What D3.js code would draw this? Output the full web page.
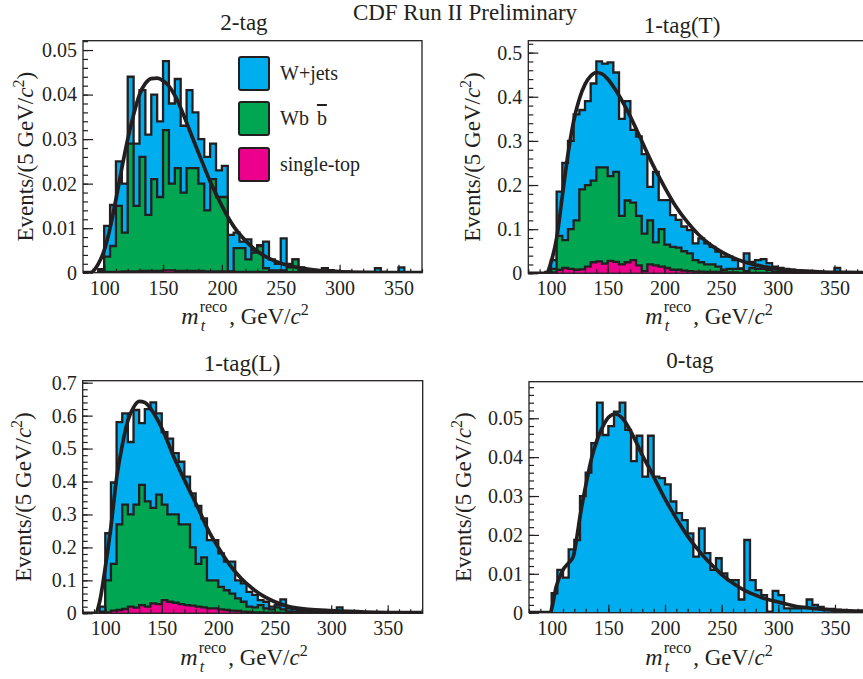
<!DOCTYPE html>
<html>
<head>
<meta charset="utf-8">
<script src="https://cdn.jsdelivr.net/npm/d3@7"></script>
<style>
  body { margin: 0; background: #fff; }
  svg text { font-family: "Liberation Serif", "Times New Roman", serif; fill: #231f20; }
</style>
</head>
<body>
<svg id="chart" width="863" height="679"></svg>
<script>
// 5 GeV bins, first bin starts at 95 GeV
const binStart = 95;
const binWidth = 5;

// 2-tag
const wjets2tag = [0.0004,0.0069,0.0092,0.0100,0.0110,0.0150,0.0140,0.0150,0.0180,0.0190,0.0170,0.0155,0.0180,0.0200,0.0150,0.0175,0.0125,0.0100,0.0120,0.0080,0.0060,0.0070,0.0082,0.0035,0.0015,0.0045,0.0005,0.0002,0.0060,0.0025,0.0015,0.0072,0.0008,0.0000,0.0007,0.0005,0.0003,0.0003,0.0008,0.0004,0.0003,0.0002,0.0003,0.0002,0.0002,0.0002,0.0002,0.0010,0.0002,0.0001,0.0001,0.0012,0.0001,0.0001,0.0001,0.0001,0.0001];
const wbb2tag = [0.0003,0.0034,0.0058,0.0148,0.0087,0.0287,0.0147,0.0256,0.0126,0.0206,0.0166,0.0315,0.0195,0.0231,0.0176,0.0231,0.0231,0.0196,0.0137,0.0207,0.0167,0.0167,0.0001,0.0053,0.0053,0.0028,0.0043,0.0058,0.0009,0.0004,0.0004,0.0004,0.0011,0.0029,0.0004,0.0002,0.0002,0.0001,0.0001,0.0001,0.0001,0.0001,0,0,0,0,0,0,0,0,0,0,0,0,0,0,0];
const stop2tag = [0.0001,0.0002,0.0002,0.0002,0.0003,0.0003,0.0003,0.0004,0.0004,0.0004,0.0004,0.0005,0.0005,0.0004,0.0004,0.0004,0.0004,0.0004,0.0003,0.0003,0.0003,0.0003,0.0002,0.0002,0.0002,0.0002,0.0002,0.0002,0.0001,0.0001,0.0001,0.0001,0.0001,0.0001,0.0001,0.0001,0.0001,0.0001,0.0001,0.0001,0,0,0,0,0,0,0,0,0,0,0,0,0,0,0,0,0];
const fit2tag = [[82,0],[88,0],[95,0.002],[100,0.005],[105,0.010],[110,0.0165],[115,0.0235],[120,0.030],[125,0.0355],[130,0.040],[135,0.0425],[140,0.0436],[145,0.0437],[150,0.0431],[155,0.0419],[160,0.0398],[165,0.0370],[170,0.0337],[175,0.0303],[180,0.0270],[185,0.0237],[190,0.0205],[195,0.0177],[200,0.0150],[210,0.0104],[220,0.0072],[230,0.0048],[240,0.0032],[250,0.0021],[260,0.0014],[270,0.0009],[285,0.0004],[300,0.0002],[330,0.00005],[370,0]];

// 1-tag(T)
const wjets1tagT = [0.002,0.020,0.100,0.175,0.200,0.240,0.180,0.190,0.220,0.240,0.235,0.258,0.225,0.220,0.225,0.165,0.180,0.180,0.076,0.160,0.066,0.101,0.072,0.063,0.056,0.053,0.038,0.054,0.048,0.040,0.034,0.030,0.028,0.020,0.001,0.040,0.014,0.020,0.022,0.015,0.011,0.009,0.007,0.006,0.004,0.004,0.003,0.002,0.003,0.002,0.002,0.012,0.002,0.002,0.002,0.001,0.001];
const wbb1tagT = [0.001,0.008,0.077,0.063,0.090,0.112,0.181,0.185,0.185,0.213,0.218,0.192,0.204,0.110,0.140,0.130,0.112,0.085,0.100,0.052,0.085,0.053,0.052,0.050,0.044,0.040,0.026,0.021,0.017,0.017,0.012,0.006,0.008,0.008,0.009,0.004,0.011,0.009,0.009,0.007,0.003,0.002,0.003,0.002,0.002,0.001,0.001,0.001,0,0,0,0,0,0,0,0,0];
const stop1tagT = [0,0.002,0.008,0.012,0.010,0.008,0.009,0.015,0.025,0.027,0.022,0.028,0.026,0.020,0.025,0.030,0.018,0.005,0.020,0.018,0.015,0.012,0.008,0.008,0.006,0.005,0.004,0.004,0.003,0.003,0.003,0.002,0.002,0.002,0.001,0.001,0.001,0.001,0.001,0.001,0.001,0.001,0,0,0,0,0,0,0,0,0,0,0,0,0,0,0];
const fit1tagT = [[80,0],[96,0],[100,0.025],[105,0.08],[110,0.175],[115,0.27],[120,0.345],[125,0.395],[130,0.428],[135,0.447],[140,0.455],[145,0.452],[150,0.44],[155,0.423],[160,0.403],[165,0.38],[170,0.355],[175,0.328],[180,0.30],[185,0.272],[190,0.245],[195,0.22],[200,0.196],[210,0.152],[220,0.117],[230,0.088],[240,0.066],[250,0.049],[260,0.036],[270,0.026],[280,0.019],[290,0.014],[300,0.010],[320,0.0055],[340,0.003],[360,0.002],[380,0.0012]];

// 1-tag(L)
const wjets1tagL = [0.015,0.143,0.247,0.310,0.277,0.220,0.287,0.187,0.280,0.320,0.247,0.220,0.230,0.186,0.190,0.145,0.164,0.176,0.118,0.122,0.122,0.102,0.087,0.097,0.055,0.056,0.045,0.038,0.015,0.020,0.008,0.007,0.030,0.009,0.008,0.006,0.005,0.003,0.004,0.003,0.003,0.007,0.017,0.003,0.003,0.003,0.002,0.002,0.002,0.001,0.001,0.001,0.001,0.001,0.001,0.001,0.001];
const wbb1tagL = [0.004,0.097,0.142,0.260,0.317,0.280,0.313,0.365,0.320,0.290,0.332,0.290,0.265,0.268,0.242,0.245,0.177,0.130,0.152,0.085,0.085,0.068,0.060,0.052,0.038,0.030,0.016,0.015,0.022,0.013,0.010,0.016,0.011,0.005,0.003,0.003,0.002,0.003,0.002,0.002,0.001,0.001,0.001,0.001,0,0,0,0,0,0,0,0,0,0,0,0,0];
const stop1tagL = [0.001,0.003,0.008,0.010,0.013,0.020,0.017,0.025,0.020,0.030,0.028,0.040,0.035,0.032,0.028,0.025,0.023,0.020,0.018,0.015,0.015,0.012,0.010,0.008,0.007,0.005,0.004,0.003,0.003,0.002,0.002,0.002,0.001,0.001,0.001,0.001,0.001,0,0,0,0,0,0,0,0,0,0,0,0,0,0,0,0,0,0,0,0];
const fit1tagL = [[80,0],[91,0],[95,0.035],[100,0.14],[105,0.263],[110,0.41],[115,0.51],[120,0.585],[125,0.625],[130,0.643],[135,0.64],[140,0.622],[145,0.595],[150,0.562],[155,0.522],[160,0.48],[165,0.442],[170,0.405],[175,0.37],[180,0.335],[185,0.298],[190,0.26],[195,0.228],[200,0.2],[210,0.148],[220,0.107],[230,0.076],[240,0.052],[250,0.035],[260,0.023],[270,0.016],[280,0.012],[300,0.008],[330,0.004],[380,0.002]];

// 0-tag
const wjets0tag = [0,0.0050,0.0110,0.0090,0.0163,0.0187,0.0300,0.0360,0.0436,0.0540,0.0457,0.0480,0.0517,0.0540,0.0470,0.0390,0.0455,0.0350,0.0455,0.0350,0.0346,0.0330,0.0286,0.0256,0.0238,0.0204,0.0144,0.0217,0.0153,0.0110,0.0140,0.0101,0.0084,0.0084,0.0034,0.0187,0.0084,0.0058,0.0045,0.0003,0.0056,0.0045,0.0011,0.0011,0.0011,0.0015,0.0034,0.0020,0.0015,0.0010,0.0010,0.0008,0.0005,0.0005,0.0004,0.0003,0.0003];
const fit0tag = [[80,0],[99,0],[100,0.001],[104,0.0067],[110,0.011],[115,0.0128],[119,0.0144],[122,0.019],[125,0.0247],[131,0.034],[135,0.0395],[140,0.0444],[145,0.0478],[150,0.0502],[156,0.0511],[163,0.0498],[170,0.0465],[175,0.0436],[180,0.0405],[187,0.0367],[193,0.0332],[199,0.0298],[206,0.0262],[213,0.0228],[220,0.0197],[228,0.0166],[235,0.0142],[243,0.0118],[250,0.0098],[258,0.008],[265,0.0066],[272,0.0055],[280,0.0045],[287,0.0037],[295,0.0031],[302,0.0026],[316,0.0016],[331,0.0011],[346,0.0007],[362,0.0005],[380,0.0004]];

const xTicks = [100, 150, 200, 250, 300, 350];
const legendLabels = ["W+jets", "Wb", "single-top"];

const ink = "#231f20";
const serif = '"Liberation Serif", "Times New Roman", serif';
const colors = { wjets: "#00aeef", wbb: "#00a651", stop: "#ec008c" };

const svg = d3.select("#chart");

const panels = [
  { id: "a", title: "2-tag", tx: 244, ty: 30, box: [83, 40.7, 422, 272.7], xDom: [82, 370],
    yMax: 0.0521, yStep: 0.01, yMinor: 0.002,
    layers: { stop: stop2tag, wbb: wbb2tag, wjets: wjets2tag }, fit: fit2tag,
    ytx: 33, xtx: 245, xty: 324 },
  { id: "b", title: "1-tag(T)", tx: 682, ty: 33, box: [528.3, 40.7, 868.5, 273.3], xDom: [80, 380],
    yMax: 0.527, yStep: 0.1, yMinor: 0.02,
    layers: { stop: stop1tagT, wbb: wbb1tagT, wjets: wjets1tagT }, fit: fit1tagT,
    ytx: 480, xtx: 709, xty: 324 },
  { id: "c", title: "1-tag(L)", tx: 242, ty: 371, box: [82.7, 380.7, 422.7, 613.3], xDom: [80, 381],
    yMax: 0.706, yStep: 0.1, yMinor: 0.02,
    layers: { stop: stop1tagL, wbb: wbb1tagL, wjets: wjets1tagL }, fit: fit1tagL,
    ytx: 31, xtx: 244, xty: 665 },
  { id: "d", title: "0-tag", tx: 690, ty: 368, box: [529, 381.7, 869, 612.7], xDom: [80, 380],
    yMax: 0.0594, yStep: 0.01, yMinor: 0.002,
    layers: { wjets: wjets0tag }, fit: fit0tag,
    ytx: 471, xtx: 709, xty: 665 }
];

function measure(str, size, italic) {
  const t = svg.append("text")
    .style("font-family", serif).style("font-size", size + "px")
    .style("font-style", italic ? "italic" : "normal").text(str);
  const w = t.node().getComputedTextLength();
  t.remove();
  return w;
}

// Overall title
svg.append("text")
  .attr("x", 465).attr("y", 20)
  .attr("text-anchor", "middle")
  .style("font-size", "23px")
  .text("CDF Run II Preliminary");

const fmt = d => d === 0 ? "0" : String(+d.toFixed(3));

panels.forEach(p => {
  const [x0, y0, x1, y1] = p.box;
  const x = d3.scaleLinear().domain(p.xDom).range([x0, x1]);
  const y = d3.scaleLinear().domain([0, p.yMax]).range([y1, y0]);

  svg.append("clipPath").attr("id", "clip-" + p.id)
    .append("rect").attr("x", x0).attr("y", y0).attr("width", x1 - x0).attr("height", y1 - y0);

  const keys = Object.keys(p.layers);
  const n = p.layers[keys[0]].length;
  const rows = d3.range(n).map(i => {
    const r = { lo: binStart + i * binWidth };
    keys.forEach(k => r[k] = p.layers[k][i]);
    return r;
  });
  const series = d3.stack().keys(keys)(rows);

  const hist = svg.append("g").attr("clip-path", `url(#clip-${p.id})`);
  const area = d3.area().x(d => x(d.x)).y0(y(0)).y1(d => y(d.v)).curve(d3.curveStepAfter);
  const line = d3.line().x(d => x(d.x)).y(d => y(d.v)).curve(d3.curveStepAfter);

  // cumulative histograms: total first, lower stacks drawn over it
  series.slice().reverse().forEach(s => {
    const hi = rows[n - 1].lo + binWidth;
    const pts = [{ x: rows[0].lo, v: 0 }]
      .concat(s.map(d => ({ x: d.data.lo, v: d[1] })))
      .concat([{ x: hi, v: s[n - 1][1] }, { x: hi, v: 0 }]);
    hist.append("path").attr("d", area(pts)).attr("fill", colors[s.key]);
    hist.append("path").attr("d", line(pts))
      .attr("fill", "none").attr("stroke", ink).attr("stroke-width", 2.3);
  });

  // fit curve
  hist.append("path")
    .attr("d", d3.line().x(d => x(d[0])).y(d => y(d[1])).curve(d3.curveMonotoneX)(p.fit))
    .attr("fill", "none").attr("stroke", ink).attr("stroke-width", 3.7);

  // y axis, ticks inside the frame
  const yMajors = d3.range(0, p.yMax + 1e-9, p.yStep);
  const yMinors = d3.range(0, p.yMax + 1e-9, p.yMinor);
  const gy = svg.append("g").attr("transform", `translate(${x0},0)`)
    .call(d3.axisLeft(y).tickValues(yMinors).tickSizeInner(-5).tickSizeOuter(0).tickFormat(""));
  gy.select(".domain").remove();
  const gyM = svg.append("g").attr("transform", `translate(${x0},0)`)
    .call(d3.axisLeft(y).tickValues(yMajors).tickSizeInner(-10).tickSizeOuter(0).tickPadding(6).tickFormat(fmt));
  gyM.select(".domain").remove();

  // x axis, ticks pointing up
  const xMinors = d3.range(80, 381, 10).filter(v => v >= p.xDom[0] && v <= p.xDom[1]);
  const gx = svg.append("g").attr("transform", `translate(0,${y1})`)
    .call(d3.axisBottom(x).tickValues(xMinors).tickSizeInner(-4).tickSizeOuter(0).tickFormat(""));
  gx.select(".domain").remove();
  const gxM = svg.append("g").attr("transform", `translate(0,${y1})`)
    .call(d3.axisBottom(x).tickValues(xTicks).tickSizeInner(-8).tickSizeOuter(0).tickPadding(8));
  gxM.select(".domain").remove();

  // frame
  svg.append("rect")
    .attr("x", x0).attr("y", y0).attr("width", x1 - x0).attr("height", y1 - y0)
    .attr("fill", "none").attr("stroke", ink).attr("stroke-width", 1.3);

  // panel title
  svg.append("text")
    .attr("x", p.tx).attr("y", p.ty)
    .attr("text-anchor", "middle")
    .style("font-size", "23px")
    .text(p.title);

  // y axis title
  const yt = svg.append("text")
    .attr("transform", `translate(${p.ytx},${(y0 + y1) / 2}) rotate(-90)`)
    .attr("text-anchor", "middle")
    .style("font-size", "23px");
  yt.append("tspan").text("Events/(5 GeV/");
  yt.append("tspan").style("font-style", "italic").text("c");
  yt.append("tspan").attr("dy", -9).style("font-size", "16px").text("2");
  yt.append("tspan").attr("dy", 9).text(")");

  // x axis title: m_t^reco, GeV/c^2 as one text element
  const wm = measure("m", 24, true);
  const ws = Math.max(measure("reco", 16, false), measure("t", 16, true)) + 2;
  const wr = measure(", GeV/", 23, false) + measure("c", 23, true) + measure("2", 16, false);
  const left = p.xtx - (wm + 1 + ws + wr) / 2;
  const xt = svg.append("text").attr("x", left).attr("y", p.xty);
  xt.append("tspan").style("font-style", "italic").style("font-size", "24px").text("m");
  xt.append("tspan").attr("x", left + wm + 1).attr("dy", -12).style("font-size", "16px").text("reco");
  xt.append("tspan").attr("x", left + wm + 2).attr("dy", 19)
    .style("font-style", "italic").style("font-size", "16px").text("t");
  xt.append("tspan").attr("x", left + wm + 1 + ws).attr("dy", -7).style("font-size", "23px").text(", GeV/");
  xt.append("tspan").style("font-style", "italic").style("font-size", "23px").text("c");
  xt.append("tspan").attr("dy", -9).style("font-size", "16px").text("2");
});

// legend (2-tag panel)
const legendKeys = ["wjets", "wbb", "stop"];
const legendY = [57, 102, 148];
const leg = svg.append("g");
legendKeys.forEach((k, i) => {
  leg.append("rect")
    .attr("x", 239).attr("y", legendY[i]).attr("width", 30).attr("height", 33).attr("rx", 2)
    .attr("fill", colors[k]).attr("stroke", ink).attr("stroke-width", 2);
  leg.append("text").attr("x", 280).attr("y", legendY[i] + 23).style("font-size", "20px")
    .text(legendLabels[i]);
  if (k === "wbb") {
    const w = measure(legendLabels[i], 20, false);
    const bx = 280 + w + 8;
    leg.append("text").attr("x", bx).attr("y", legendY[i] + 23).style("font-size", "20px").text("b");
    leg.append("line").attr("x1", bx).attr("x2", bx + 10)
      .attr("y1", legendY[i] + 3).attr("y2", legendY[i] + 3)
      .attr("stroke", ink).attr("stroke-width", 2);
  }
});

// tick styling and serif font everywhere
svg.selectAll(".tick line").attr("stroke", ink).attr("stroke-width", 1.2);
svg.selectAll(".tick text").style("font-size", "20px").attr("fill", ink);
svg.selectAll("text").style("font-family", serif).attr("fill", ink);
</script>
</body>
</html>
